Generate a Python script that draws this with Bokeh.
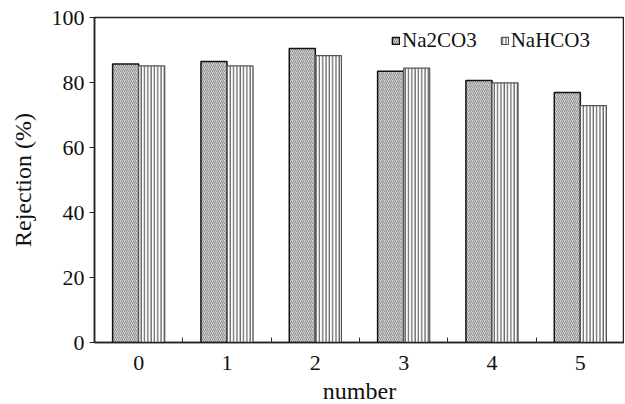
from bokeh.plotting import figure
from bokeh.models import ColumnDataSource, FixedTicker, Legend, LegendItem
from bokeh.transform import dodge
from bokeh.embed import file_html
from bokeh.resources import INLINE

numbers = [0, 1, 2, 3, 4, 5]
na2co3 = [85.7, 86.5, 90.5, 83.5, 80.6, 76.9]
nahco3 = [85.1, 85.1, 88.3, 84.4, 79.9, 72.9]
y_ticks = [0, 20, 40, 60, 80, 100]

src = ColumnDataSource(dict(number=numbers, na2co3=na2co3, nahco3=nahco3))

FONT = "Liberation Serif"

p = figure(frame_width=530, frame_height=325, x_range=(-0.5, 5.5), y_range=(0, 100),
           output_backend="svg", toolbar_location=None,
           min_border_left=94, min_border_right=0, min_border_top=17, min_border_bottom=5)
p.grid.visible = False
p.background_fill_color = "white"
p.border_fill_color = "white"
p.outline_line_color = "#222222"
p.outline_line_width = 1.5

r1 = p.vbar(x=dodge("number", -0.1475, range=p.x_range), top="na2co3", width=0.295, source=src,
            fill_color="#d2d2d2", line_color="#111111", line_width=1.5,
            hatch_pattern="/", hatch_scale=4, hatch_weight=0.8, hatch_color="#7c7c7c")
r2 = p.vbar(x=dodge("number", 0.1475, range=p.x_range), top="nahco3", width=0.295, source=src,
            fill_color="white", line_color="#555555", line_width=1.2,
            hatch_pattern="|", hatch_scale=3.3, hatch_weight=1.3, hatch_color="#6a6a6a")

# x axis
p.xaxis.ticker = FixedTicker(ticks=numbers, minor_ticks=[0.5, 1.5, 2.5, 3.5, 4.5])
p.xaxis.major_tick_in = 0
p.xaxis.major_tick_out = 0
p.xaxis.minor_tick_in = 5
p.xaxis.minor_tick_out = 0
p.xaxis.minor_tick_line_color = "#333333"
p.xaxis.axis_label = "number"
p.xaxis.major_label_standoff = 13
p.xaxis.axis_label_standoff = 5

# y axis
p.yaxis.ticker = FixedTicker(ticks=y_ticks)
p.yaxis.major_tick_in = 0
p.yaxis.major_tick_out = 5
p.yaxis.minor_tick_line_color = None
p.yaxis.axis_label = "Rejection (%)"
p.yaxis.major_label_standoff = 5
p.yaxis.axis_label_standoff = 13

for ax in (p.xaxis[0], p.yaxis[0]):
    ax.axis_line_width = 1.5
    ax.axis_line_color = "#222222"
    ax.major_tick_line_color = "#222222"
    ax.major_label_text_font = FONT
    ax.major_label_text_font_size = "22px"
    ax.major_label_text_color = "#111111"
    ax.axis_label_text_font = FONT
    ax.axis_label_text_font_size = "24px"
    ax.axis_label_text_font_style = "normal"
    ax.axis_label_text_color = "#111111"

legend = Legend(items=[LegendItem(label="Na2CO3", renderers=[r1]),
                       LegendItem(label="NaHCO3", renderers=[r2])],
                orientation="horizontal", location=(297, 289))
legend.glyph_width = 9
legend.glyph_height = 9
legend.label_text_font = FONT
legend.label_text_font_size = "21px"
legend.label_text_color = "#111111"
legend.label_standoff = 2
legend.spacing = 23
legend.padding = 0
legend.margin = 0
legend.border_line_color = None
legend.background_fill_alpha = 0
p.add_layout(legend)

open("out.html", "w").write(file_html(p, INLINE))
